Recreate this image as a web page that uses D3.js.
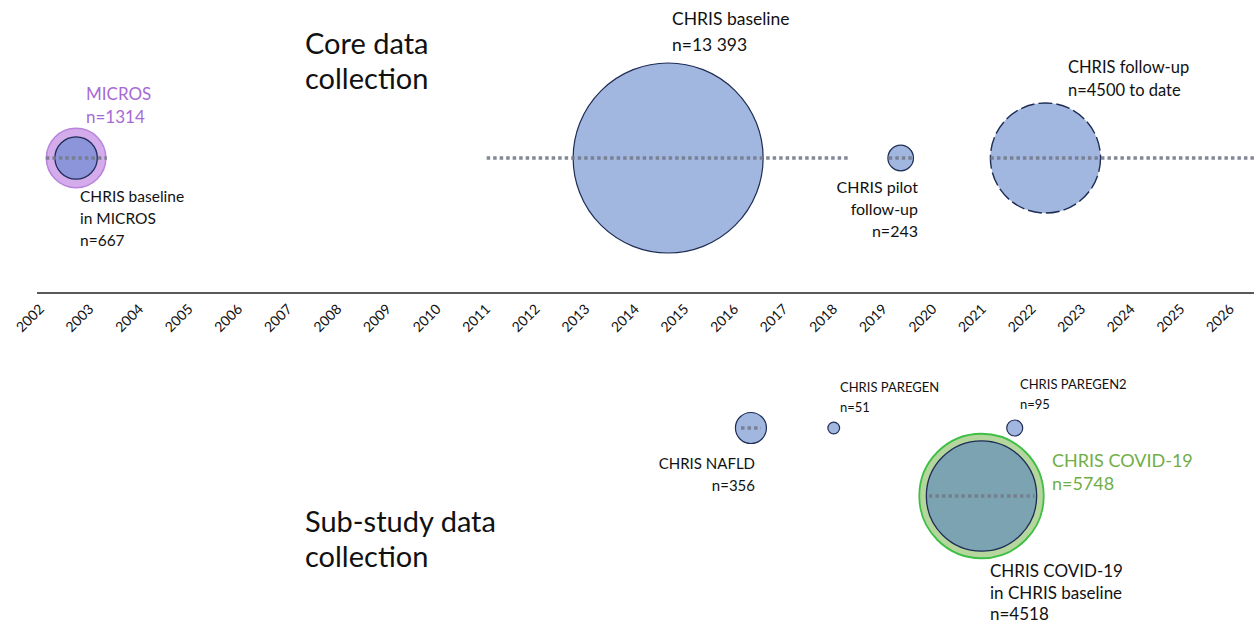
<!DOCTYPE html>
<html>
<head>
<meta charset="utf-8">
<script src="https://cdn.jsdelivr.net/npm/d3@7"></script>
<style>
  body { margin: 0; background: #fff; }
  svg { display: block; font-family: Lato, "Open Sans", sans-serif; }
</style>
</head>
<body>
<svg id="chart" width="1254" height="625"></svg>
<script>
// ------------------- Data -------------------
const years = d3.range(2002, 2027);

// core data collection
const coreNames = ["MICROS", "CHRIS baseline in MICROS", "CHRIS baseline", "CHRIS pilot follow-up", "CHRIS follow-up"];
const coreYear  = [2002.93, 2002.93, 2014.87, 2019.56, 2022.48];
const coreN     = [1314, 667, 13393, 243, 4500];
const corePeriods = [[2002.32, 2003.55], [2011.21, 2018.53], [2019.32, 2019.8], [2021.37, 2027.2]];

// sub-study data collection
const subNames = ["CHRIS NAFLD", "CHRIS PAREGEN", "CHRIS PAREGEN2", "CHRIS COVID-19", "CHRIS COVID-19 in CHRIS baseline"];
const subYear  = [2016.54, 2018.21, 2021.86, 2021.19, 2021.19];
const subN     = [356, 51, 95, 5748, 4518];
const subPeriods = [[2016.34, 2016.74], [2020.13, 2022.26]];

// ------------------- Setup -------------------
const svg = d3.select("#chart");
const width = 1254, height = 625;

const x = d3.scaleLinear().domain([2002, 2026]).range([30, 1220]);
const r = d3.scaleSqrt().domain([0, 13393]).range([0, 95]);

const coreY = 158, subY = 428, covidY = 496, axisY = 293;

const blue = "#a1b7e0", navy = "#1f2d55";
const dotColor = "#767b8c";

// ------------------- Axis -------------------
svg.append("line")
  .attr("x1", 37).attr("x2", width)
  .attr("y1", axisY).attr("y2", axisY)
  .attr("stroke", "#222").attr("stroke-width", 1.6);

svg.append("g").selectAll("text")
  .data(years)
  .join("text")
    .attr("transform", d => `translate(${x(d)},${axisY + 25}) rotate(-45)`)
    .attr("text-anchor", "middle")
    .attr("dy", "0.35em")
    .attr("font-size", 14)
    .attr("fill", "#111")
    .text(d => d);

// ------------------- Helpers -------------------
function bubble(year, n, cy, fill, stroke, sw, dash) {
  return svg.append("circle")
    .attr("cx", x(year)).attr("cy", cy)
    .attr("r", r(n))
    .attr("fill", fill)
    .attr("stroke", stroke)
    .attr("stroke-width", sw || 1.2)
    .attr("stroke-dasharray", dash || null);
}

function period(p, cy) {
  svg.append("line")
    .attr("x1", x(p[0])).attr("x2", x(p[1]))
    .attr("y1", cy).attr("y2", cy)
    .attr("stroke", dotColor)
    .attr("stroke-opacity", 0.9)
    .attr("stroke-width", 3.5)
    .attr("stroke-dasharray", "3.5,3");
}

function label(lines, lx, ly, opts) {
  const o = Object.assign({ size: 17, fill: "#111", anchor: "start", lh: 23 }, opts);
  const t = svg.append("text")
    .attr("x", lx).attr("y", ly)
    .attr("font-size", o.size)
    .attr("fill", o.fill)
    .attr("text-anchor", o.anchor);
  lines.forEach((s, i) => t.append("tspan").attr("x", lx).attr("dy", i ? o.lh : 0).text(s));
}

// ------------------- Core bubbles -------------------
bubble(coreYear[0], coreN[0], coreY, "#d4abeb", "#b884dc", 1.5);
bubble(coreYear[1], coreN[1], coreY, "#8c95da", navy, 1.3);
bubble(coreYear[2], coreN[2], coreY, blue, navy, 1.2);
bubble(coreYear[3], coreN[3], coreY, blue, navy, 1.2);
bubble(coreYear[4], coreN[4], coreY, blue, navy, 1.4, "14,4");
corePeriods.forEach(p => period(p, coreY));

// ------------------- Sub-study bubbles -------------------
bubble(subYear[0], subN[0], subY, blue, navy, 1.2);
bubble(subYear[1], subN[1], subY, blue, navy, 1.2);
bubble(subYear[2], subN[2], subY, blue, navy, 1.2);
bubble(subYear[3], subN[3], covidY, "#b5d69c", "#3dbf46", 1.8);
bubble(subYear[4], subN[4], covidY, "#7ba3b1", navy, 1.3);
period(subPeriods[0], subY);
period(subPeriods[1], covidY);

// ------------------- Labels -------------------
label(["Core data", "collection"], 305, 54, { size: 29, lh: 35 });
label(["Sub-study data", "collection"], 305, 532, { size: 29, lh: 35 });

label(["MICROS", "n=1314"], 86, 100, { fill: "#a66ad6", size: 17, lh: 23 });
label(["CHRIS baseline", "in MICROS", "n=667"], 80, 202, { size: 15.5, lh: 22 });
label(["CHRIS baseline", "n=13 393"], 672, 25, { size: 17.5, lh: 26 });
label(["CHRIS pilot", "follow-up", "n=243"], 918, 193, { size: 16, lh: 22, anchor: "end" });
label(["CHRIS follow-up", "n=4500 to date"], 1068, 73, { size: 16.5, lh: 23 });

label(["CHRIS NAFLD", "n=356"], 755, 469, { size: 15, lh: 22, anchor: "end" });
label(["CHRIS PAREGEN", "n=51"], 840, 392, { size: 13, lh: 20 });
label(["CHRIS PAREGEN2", "n=95"], 1020, 389, { size: 13, lh: 20 });
label(["CHRIS COVID-19", "n=5748"], 1052, 467, { fill: "#6fae47", size: 18, lh: 23 });
label(["CHRIS COVID-19", "in CHRIS baseline", "n=4518"], 990, 577, { size: 17, lh: 21.5 });
</script>
</body>
</html>
